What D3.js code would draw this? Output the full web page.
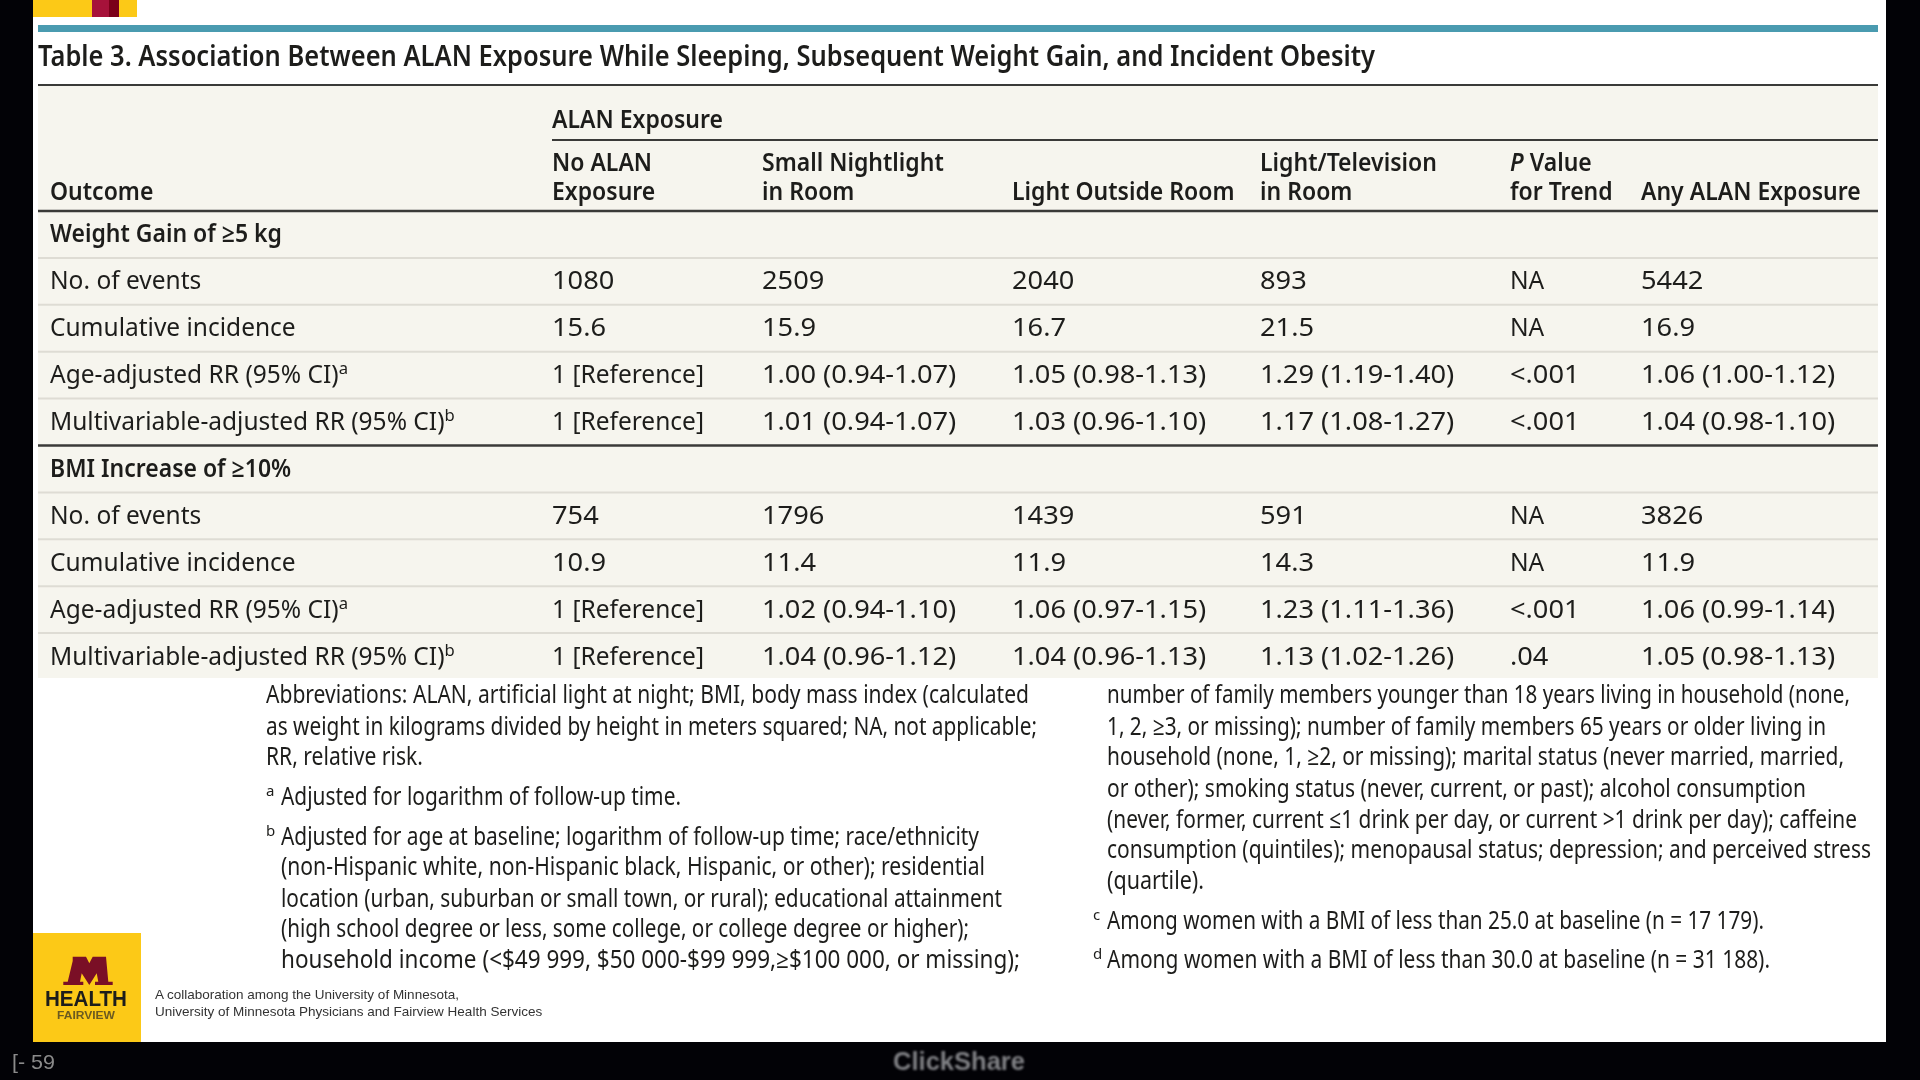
<!DOCTYPE html>
<html>
<head>
<meta charset="utf-8">
<title>Table 3</title>
<script src="https://cdn.jsdelivr.net/npm/d3@7"></script>
<style>
  html, body { margin: 0; padding: 0; background: #020206; overflow: hidden; }
  svg { display: block; filter: blur(0.5px); }
  text { font-family: "Noto Sans", "Open Sans", sans-serif; fill: #1d1d1b; }
</style>
</head>
<body>
<svg id="chart" width="1920" height="1080"></svg>
<script>
// table content
var tableTitle = "Table 3. Association Between ALAN Exposure While Sleeping, Subsequent Weight Gain, and Incident Obesity";
var spannerLabel = "ALAN Exposure";
var colKeys = ["outcome", "none", "small", "outside", "tv", "trend", "any"];
var colHead1 = ["", "No ALAN", "Small Nightlight", "", "Light/Television", "*P* Value", ""];
var colHead2 = ["Outcome", "Exposure", "in Room", "Light Outside Room", "in Room", "for Trend", "Any ALAN Exposure"];

var rowLabels = [
  "Weight Gain of ≥5 kg", "No. of events", "Cumulative incidence", "Age-adjusted RR (95% CI)^a", "Multivariable-adjusted RR (95% CI)^b",
  "BMI Increase of ≥10%", "No. of events", "Cumulative incidence", "Age-adjusted RR (95% CI)^a", "Multivariable-adjusted RR (95% CI)^b"
];
var noAlan = ["", "1080", "15.6", "1 [Reference]", "1 [Reference]", "", "754", "10.9", "1 [Reference]", "1 [Reference]"];
var smallLight = ["", "2509", "15.9", "1.00 (0.94-1.07)", "1.01 (0.94-1.07)", "", "1796", "11.4", "1.02 (0.94-1.10)", "1.04 (0.96-1.12)"];
var lightOutside = ["", "2040", "16.7", "1.05 (0.98-1.13)", "1.03 (0.96-1.10)", "", "1439", "11.9", "1.06 (0.97-1.15)", "1.04 (0.96-1.13)"];
var lightTv = ["", "893", "21.5", "1.29 (1.19-1.40)", "1.17 (1.08-1.27)", "", "591", "14.3", "1.23 (1.11-1.36)", "1.13 (1.02-1.26)"];
var pTrend = ["", "NA", "NA", "<.001", "<.001", "", "NA", "NA", "<.001", ".04"];
var anyAlan = ["", "5442", "16.9", "1.06 (1.00-1.12)", "1.04 (0.98-1.10)", "", "3826", "11.9", "1.06 (0.99-1.14)", "1.05 (0.98-1.13)"];
var sectionRows = [0, 5];

var notesLeft = [
  "Abbreviations: ALAN, artificial light at night; BMI, body mass index (calculated",
  "as weight in kilograms divided by height in meters squared; NA, not applicable;",
  "RR, relative risk.",
  "Adjusted for logarithm of follow-up time.",
  "Adjusted for age at baseline; logarithm of follow-up time; race/ethnicity",
  "(non-Hispanic white, non-Hispanic black, Hispanic, or other); residential",
  "location (urban, suburban or small town, or rural); educational attainment",
  "(high school degree or less, some college, or college degree or higher);",
  "household income (<$49 999, $50 000-$99 999,≥$100 000, or missing);"
];
var notesRight = [
  "number of family members younger than 18 years living in household (none,",
  "1, 2, ≥3, or missing); number of family members 65 years or older living in",
  "household (none, 1, ≥2, or missing); marital status (never married, married,",
  "or other); smoking status (never, current, or past); alcohol consumption",
  "(never, former, current ≤1 drink per day, or current >1 drink per day); caffeine",
  "consumption (quintiles); menopausal status; depression; and perceived stress",
  "(quartile).",
  "Among women with a BMI of less than 25.0 at baseline (n = 17 179).",
  "Among women with a BMI of less than 30.0 at baseline (n = 31 188)."
];
var notesLeftMarks = ["", "", "", "a", "b", "", "", "", ""];
var notesRightMarks = ["", "", "", "", "", "", "", "c", "d"];
var logoCaption = ["A collaboration among the University of Minnesota,", "University of Minnesota Physicians and Fairview Health Services"];

// layout of the footnote lines, measured on the slide
var notesLeftY = [703, 735, 765, 805, 845, 875, 907, 937, 968];
var notesRightY = [703, 735, 765, 797, 828, 858, 889, 929, 968];
var notesLeftW = [763, 771, 157, 400, 698, 704, 721, 688, 739];
var notesRightW = [743, 719, 737, 699, 750, 764, 97, 657, 663];

var svg = d3.select("#chart");

// ^x is a superscript, *x* is italic
function put(parent, x, y, str, o) {
  o = o || {};
  var t = parent.append("text")
    .attr("transform", "translate(" + x + "," + y + ") scale(" + (o.sx || 1) + ",1)")
    .style("font-size", (o.size || 24) + "px")
    .style("font-weight", o.weight || 400);
  if (o.family) t.style("font-family", o.family);
  if (o.fill) t.style("fill", o.fill);
  if (o.blur) t.style("filter", "blur(" + o.blur + "px)");
  if (o.length) t.attr("textLength", o.length).attr("lengthAdjust", "spacingAndGlyphs");
  str.split(/(\^\w|\*[^*]+\*)/).filter(function (s) { return s; }).forEach(function (s) {
    if (s[0] === "^") {
      t.append("tspan").attr("dy", -9).style("font-size", "17px").text(s.slice(1));
    } else if (s[0] === "*") {
      t.append("tspan").style("font-style", "italic").text(s.slice(1, -1));
    } else {
      t.append("tspan").text(s);
    }
  });
  return t;
}

// slide frame
svg.append("rect").attr("width", 1920).attr("height", 1080).attr("fill", "#020206");
svg.append("rect").attr("x", 33).attr("y", 0).attr("width", 1853).attr("height", 1042).attr("fill", "#ffffff");
svg.append("rect").attr("x", 33).attr("y", 0).attr("width", 104).attr("height", 17).attr("fill", "#fcc917");
svg.append("rect").attr("x", 92).attr("y", 0).attr("width", 17).attr("height", 17).attr("fill", "#a6123a");
svg.append("rect").attr("x", 109).attr("y", 0).attr("width", 10).attr("height", 17).attr("fill", "#7a0019");
svg.append("rect").attr("x", 38).attr("y", 25).attr("width", 1840).attr("height", 7).attr("fill", "#4a9bb0");

put(svg, 38, 66, tableTitle, { size: 28, weight: 600, length: 1337 });

// table scales
var rowIdx = d3.range(rowLabels.length);
var y = d3.scaleBand().domain(rowIdx).range([211, 680]);
var x = d3.scaleOrdinal().domain(colKeys).range([50, 552, 762, 1012, 1260, 1510, 1641]);
var tableLeft = 38, tableRight = 1878;
var bodySize = 25, labelSx = 0.98, numberSx = 1.09, boldSx = 0.92;

svg.append("rect").attr("x", tableLeft).attr("y", 85).attr("width", tableRight - tableLeft).attr("height", 593).attr("fill", "#f6f5ee");

function hRule(yy, x0, color, w) {
  svg.append("line").attr("x1", x0).attr("x2", tableRight).attr("y1", yy).attr("y2", yy)
    .attr("stroke", color).attr("stroke-width", w);
}
hRule(85, tableLeft, "#3a3a38", 2);
hRule(140, x("none"), "#3a3a38", 2);
hRule(211, tableLeft, "#3a3a38", 2.5);

rowIdx.slice(0, -1).forEach(function (i) {
  var dark = i === 4;
  hRule(y(i) + y.bandwidth(), tableLeft, dark ? "#3a3a38" : "#dedcd4", dark ? 2.5 : 2);
});

// header
var headStyle = { size: bodySize, sx: boldSx, weight: 600 };
put(svg, x("none"), 128, spannerLabel, headStyle);
colKeys.forEach(function (k, i) {
  if (colHead1[i]) put(svg, x(k), 171, colHead1[i], headStyle);
  if (colHead2[i]) put(svg, x(k), 200, colHead2[i], headStyle);
});

// body
var columns = [rowLabels, noAlan, smallLight, lightOutside, lightTv, pTrend, anyAlan];
rowIdx.forEach(function (r) {
  var isSection = sectionRows.indexOf(r) >= 0;
  var base = y(r) + y.bandwidth() / 2 + 8;
  columns.forEach(function (col, c) {
    if (!col[r]) return;
    var isNumber = /^[\d<.]/.test(col[r]) && col[r].indexOf("Reference") < 0;
    put(svg, x(colKeys[c]), base, col[r], {
      size: bodySize,
      sx: isSection ? boldSx : (isNumber ? numberSx : labelSx),
      weight: isSection ? 600 : 400
    });
  });
});

// footnotes, the hanging lines of the left column start at the indent
function drawNotes(lines, marks, ys, widths, xAt, markX) {
  lines.forEach(function (line, i) {
    put(svg, xAt(i), ys[i], line, { size: 25, length: widths[i] });
    if (marks[i]) put(svg, markX, ys[i] - 9, marks[i], { size: 15 });
  });
}
drawNotes(notesLeft, notesLeftMarks, notesLeftY, notesLeftW, function (i) { return i >= 3 ? 281 : 266; }, 266);
drawNotes(notesRight, notesRightMarks, notesRightY, notesRightW, function () { return 1107; }, 1093);

// footer logo
svg.append("rect").attr("x", 33).attr("y", 933).attr("width", 108).attr("height", 109).attr("fill", "#fcc917");
svg.append("path")
  .attr("d", "M72.7 956.7H86L89.3 963.3L92.7 956.7H106L108.3 981.7H112.7V985H95V981.7H98.3L96.7 973.3L89.3 985L81.7 973.3L80 981.7H83.3V985H63.3V981.7H67.7L72.7 961Z")
  .attr("fill", "#7a0f26");
var logoFont = "'Liberation Sans', sans-serif";
put(svg, 45, 1006, "HEALTH", { size: 22, weight: 700, family: logoFont, length: 82 });
put(svg, 57, 1019, "FAIRVIEW", { size: 11, weight: 700, fill: "#6b5a20", family: logoFont, length: 58 });
put(svg, 155, 999, logoCaption[0], { size: 13.5, family: logoFont, fill: "#333" });
put(svg, 155, 1016, logoCaption[1], { size: 13.5, family: logoFont, fill: "#333" });

// projector overlay at the bottom
put(svg, 12, 1069, "[- 59", { size: 21, fill: "#8a8a8a", family: logoFont, length: 43, blur: 0.7 });
put(svg, 893, 1070, "ClickShare", { size: 25, weight: 700, fill: "#808185", family: logoFont, length: 132, blur: 1.2 });
</script>
</body>
</html>
